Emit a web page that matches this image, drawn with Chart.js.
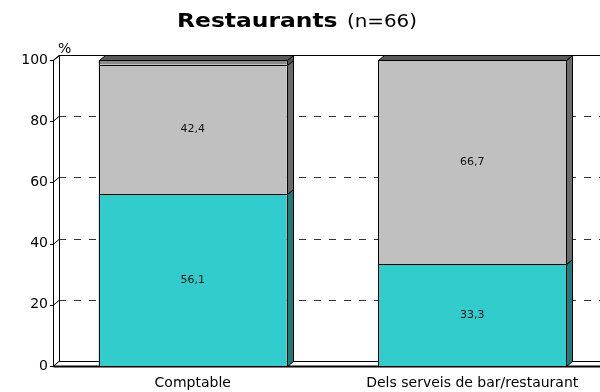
<!DOCTYPE html>
<html>
<head>
<meta charset="utf-8">
<script src="https://cdn.jsdelivr.net/npm/chart.js@4"></script>
<style>
  body { margin: 0; overflow: hidden; background: #fff; }
  #wrap { width: 614px; height: 392px; position: relative; }
</style>
</head>
<body>
<div id="wrap"><canvas id="myChart"></canvas></div>
<script>
// Chart data
const categories = ['Comptable', 'Dels serveis de bar/restaurant'];
const tealValues = [56.1, 33.3];
const grayValues = [42.4, 66.7];
const darkValues = [1.5, 0];
const yTicks = [0, 20, 40, 60, 80, 100];

const FONT = "'DejaVu Sans', Verdana, sans-serif";
const DX = 6, DY = 5; // 3d depth

// side face colours for each dataset
const sideColors = ['#1f7a7a', '#6b6b6b', '#555555'];

function fmt(v) {
  return v.toFixed(1).replace('.', ',');
}

// back wall, floor and dashed grid behind the bars
const backdrop = {
  id: 'backdrop',
  beforeDatasetsDraw(chart) {
    const { ctx, chartArea: a, scales: { y } } = chart;
    ctx.save();
    ctx.strokeStyle = '#000';
    ctx.lineWidth = 1;
    yTicks.forEach(t => {
      const py = Math.round(y.getPixelForValue(t)) + 0.5;
      ctx.beginPath();
      if (t === 0 || t === 100) {
        ctx.setLineDash([]);
        ctx.strokeStyle = '#000';
      } else {
        ctx.setLineDash([7, 8]);
        ctx.strokeStyle = '#333';
      }
      ctx.moveTo(a.left + DX, py - DY);
      ctx.lineTo(a.right + DX, py - DY);
      ctx.stroke();
      // diagonal tick
      ctx.setLineDash([]);
      ctx.strokeStyle = '#000';
      ctx.beginPath();
      ctx.moveTo(a.left - 3, py);
      ctx.lineTo(a.left, py);
      ctx.lineTo(a.left + DX, py - DY);
      ctx.stroke();
    });
    // left wall
    const L = Math.round(a.left) + 0.5;
    const T = Math.round(a.top) + 0.5;
    const B = Math.round(a.bottom) + 0.5;
    ctx.beginPath();
    ctx.moveTo(L, B);
    ctx.lineTo(L, T);
    ctx.lineTo(L + DX, T - DY);
    ctx.lineTo(L + DX, B - DY);
    ctx.stroke();
    // floor front edge
    ctx.lineWidth = 2;
    ctx.beginPath();
    ctx.moveTo(L, B);
    ctx.lineTo(a.right + DX + 10, B);
    ctx.stroke();
    ctx.restore();
  }
};

// outlines, side and top faces plus value labels
const bars3d = {
  id: 'bars3d',
  afterDatasetsDraw(chart) {
    const { ctx } = chart;
    ctx.save();
    ctx.strokeStyle = '#000';
    ctx.lineWidth = 1;
    chart.data.datasets.forEach((ds, di) => {
      const meta = chart.getDatasetMeta(di);
      meta.data.forEach((bar, i) => {
        const p = bar.getProps(['x', 'y', 'base', 'width'], true);
        const x = p.x;
        const y = Math.round(p.y) + 0.5;
        const base = Math.round(p.base) + 0.5;
        const l = Math.round(x - p.width / 2) + 0.5;
        const r = Math.round(x + p.width / 2) + 0.5;
        // front outline
        ctx.strokeRect(l, y, r - l, base - y);
        // side face
        ctx.fillStyle = sideColors[di];
        ctx.beginPath();
        ctx.moveTo(r, base);
        ctx.lineTo(r, y);
        ctx.lineTo(r + DX, y - DY);
        ctx.lineTo(r + DX, base - DY);
        ctx.closePath();
        ctx.fill();
        ctx.stroke();
        // top face on the last segment
        if (di === chart.data.datasets.length - 1) {
          ctx.fillStyle = '#5a5a5a';
          ctx.beginPath();
          ctx.moveTo(l, y);
          ctx.lineTo(l + DX, y - DY);
          ctx.lineTo(r + DX, y - DY);
          ctx.lineTo(r, y);
          ctx.closePath();
          ctx.fill();
          ctx.stroke();
        }
        // value label
        if (di < 2) {
          ctx.fillStyle = '#111';
          ctx.font = '11px ' + FONT;
          ctx.textAlign = 'center';
          ctx.textBaseline = 'middle';
          ctx.fillText(fmt(ds.data[i]), x, (p.y + p.base) / 2);
        }
      });
    });
    ctx.restore();
  },
  afterDraw(chart) {
    const { ctx, chartArea: a } = chart;
    ctx.save();
    // title, stretched a little to match the wide original face
    ctx.fillStyle = '#000';
    ctx.textBaseline = 'alphabetic';
    ctx.textAlign = 'left';
    const t1 = 'Restaurants';
    const t2 = '(n=66)';
    const f1 = 'bold 20px ' + FONT;
    const f2 = '17px ' + FONT;
    ctx.font = f1;
    const w1 = ctx.measureText(t1).width;
    ctx.font = f2;
    const w2 = ctx.measureText(t2).width;
    const gap = 8;
    const sx = 240 / (w1 + gap + w2);
    ctx.translate(177, 27);
    ctx.scale(sx, 1);
    ctx.font = f1;
    ctx.fillText(t1, 0, 0);
    ctx.font = f2;
    ctx.fillText(t2, w1 + gap, 0);
    ctx.setTransform(1, 0, 0, 1, 0, 0);
    // unit
    ctx.font = '14px ' + FONT;
    ctx.fillText('%', a.left + 5, a.top - 7);
    ctx.restore();
  }
};

const ctx = document.getElementById('myChart').getContext('2d');

const myChart = new Chart(ctx, {
  type: 'bar',
  data: {
    labels: categories,
    datasets: [
      { label: 'teal', data: tealValues, backgroundColor: '#33cccc' },
      { label: 'gray', data: grayValues, backgroundColor: '#c0c0c0' },
      { label: 'dark', data: darkValues, backgroundColor: '#8a8a8a' }
    ].map(d => Object.assign(d, {
      borderWidth: 0,
      categoryPercentage: 1,
      barPercentage: 0.673
    }))
  },
  plugins: [backdrop, bars3d],
  options: {
    responsive: true,
    maintainAspectRatio: false,
    animation: false,
    layout: { padding: { top: 60, right: 2, left: 0, bottom: 0 } },
    plugins: {
      legend: { display: false },
      tooltip: { enabled: false }
    },
    scales: {
      x: {
        stacked: true,
        grid: { display: false, drawTicks: false },
        border: { display: false },
        ticks: { color: '#000', font: { family: FONT, size: 14 }, padding: 9, maxRotation: 0 },
        afterFit(scale) { scale.height = 26; }
      },
      y: {
        stacked: true,
        min: 0,
        max: 100,
        grid: { display: false, drawTicks: false },
        border: { display: false },
        ticks: {
          stepSize: 20,
          color: '#000',
          padding: 5,
          font: { family: FONT, size: 14 }
        },
        afterFit(scale) { scale.width = 53; }
      }
    }
  }
});
</script>
</body>
</html>
